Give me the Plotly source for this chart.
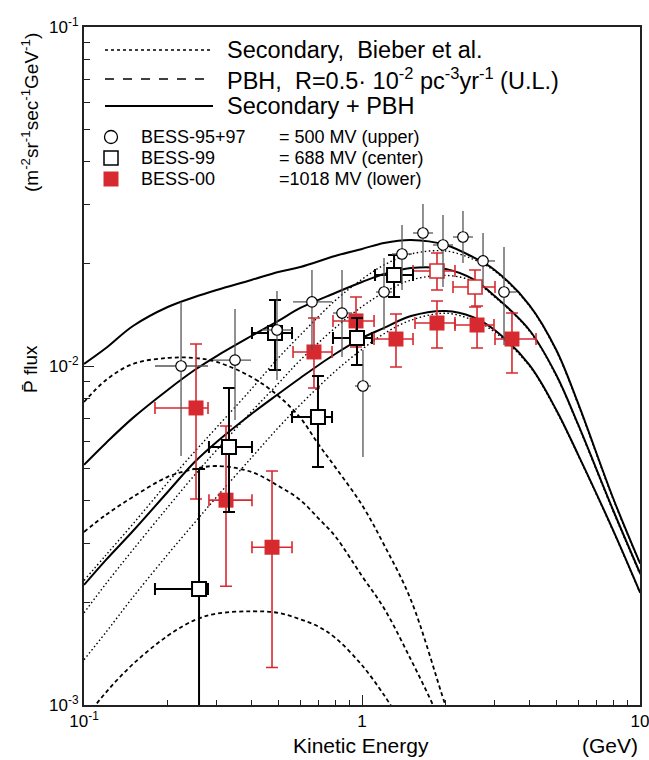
import plotly.graph_objects as go

# ---------------- curves ----------------
E_CURVE = [0.1, 0.12, 0.15, 0.2, 0.25, 0.3, 0.4, 0.5, 0.6, 0.8, 1.0, 1.2, 1.5, 2.0, 2.5, 3.0, 4.0, 5.0, 6.0, 8.0, 10.0]
SUM_500 = [0.01014, 0.01130, 0.01312, 0.01493, 0.01598, 0.01676, 0.01794, 0.01894, 0.01959, 0.02111, 0.02214,
           0.02306, 0.02353, 0.02275, 0.02097, 0.01920, 0.01513, 0.01115, 0.00773, 0.00408, 0.00262]
SUM_688 = [0.00511, 0.00593, 0.00703, 0.00850, 0.00973, 0.01070, 0.01226, 0.01358, 0.01483, 0.01642, 0.01769,
           0.01868, 0.01946, 0.01933, 0.01806, 0.01609, 0.01277, 0.00941, 0.00670, 0.00376, 0.00245]
SUM_1018 = [0.00226, 0.00268, 0.00326, 0.00425, 0.00521, 0.00597, 0.00722, 0.00827, 0.00922, 0.01085, 0.01209,
            0.01295, 0.01404, 0.01453, 0.01395, 0.01277, 0.01007, 0.00742, 0.00546, 0.00328, 0.00215]
SEC_500 = [0.00233, 0.00277, 0.00342, 0.00453, 0.00559, 0.00659, 0.00855, 0.01056, 0.01234, 0.01559, 0.01802,
           0.01986, 0.02140, 0.02184, 0.02068, 0.01906, 0.01503, 0.01107, 0.00767, 0.00405, 0.00261]
SEC_688 = [0.00187, 0.00228, 0.00287, 0.00383, 0.00477, 0.00565, 0.00733, 0.00888, 0.01041, 0.01295, 0.01497,
           0.01647, 0.01793, 0.01850, 0.01781, 0.01598, 0.01268, 0.00934, 0.00665, 0.00373, 0.00243]
SEC_1018 = [0.00136, 0.00164, 0.00208, 0.00278, 0.00345, 0.00411, 0.00536, 0.00658, 0.00769, 0.00964, 0.01120,
            0.01245, 0.01365, 0.01431, 0.01367, 0.01260, 0.01000, 0.00736, 0.00543, 0.00326, 0.00214]

E_PBH_500 = [0.1, 0.12, 0.15, 0.2, 0.25, 0.3, 0.4, 0.5, 0.6, 0.7, 0.8, 1.0, 1.2, 1.5, 2.0, 2.3]
PBH_500 = [0.00783, 0.00909, 0.01014, 0.01056, 0.01056, 0.01028, 0.00928, 0.00816, 0.00703, 0.00585, 0.00504,
           0.00389, 0.00297, 0.00204, 0.000993, 0.000717]
E_PBH_688 = [0.1, 0.12, 0.15, 0.2, 0.25, 0.3, 0.4, 0.5, 0.6, 0.7, 0.8, 1.0, 1.2, 1.5, 1.8, 2.0]
PBH_688 = [0.00324, 0.00364, 0.00411, 0.00471, 0.00497, 0.00507, 0.00487, 0.00443, 0.00402, 0.00354, 0.00315,
           0.00240, 0.00193, 0.00136, 0.00100, 0.000816]
E_PBH_1018 = [0.1, 0.12, 0.15, 0.2, 0.25, 0.3, 0.4, 0.5, 0.6, 0.7, 0.8, 1.0, 1.2, 1.3]
PBH_1018 = [0.000903, 0.00109, 0.00132, 0.00160, 0.00178, 0.00186, 0.00189, 0.00187, 0.00179, 0.00170, 0.00158,
            0.00131, 0.00107, 0.000966]

# ---------------- data points ----------------
E95 = [0.2234, 0.3493, 0.4945, 0.6607, 0.8474, 1.008, 1.200, 1.393, 1.657, 1.956, 2.308, 2.725, 3.242]
F95 = [0.0100, 0.01041, 0.01277, 0.01545, 0.01433, 0.00873, 0.01653, 0.02140, 0.02468, 0.02275, 0.02402, 0.02041, 0.01653]
F95_HI = [0.01545, 0.01473, 0.01664, 0.01920, 0.01920, 0.01115, 0.02083, 0.02605, 0.03004, 0.02788, 0.02865, 0.02468, 0.02244]
F95_LO = [0.00543, 0.00693, 0.00909, 0.01115, 0.01063, 0.00539, 0.01277, 0.01676, 0.01959, 0.01710, 0.02012, 0.01710, 0.01153]
E95_LO = [0.180, 0.2911, 0.4368, 0.5648, 0.7864, 0.9436, 1.123, 1.282, 1.526, 1.800, 2.125, 2.615, 3.136]
E95_HI = [0.2793, 0.3988, 0.5601, 0.7801, 0.9204, 1.077, 1.282, 1.513, 1.800, 2.125, 2.507, 3.009, 3.581]

E99 = [0.2593, 0.3323, 0.4865, 0.6945, 0.9594, 1.304]
F99 = [0.00220, 0.00577, 0.01251, 0.00707, 0.01210, 0.01855]
F99_HI = [0.00497, 0.00861, 0.01566, 0.00934, 0.01385, 0.02126]
F99_LO = [0.0005, 0.00371, 0.00973, 0.00504, 0.01007, 0.01598]
E99_LO = [0.180, 0.2815, 0.4020, 0.5601, 0.7864, 1.114]
E99_HI = [0.2793, 0.4020, 0.5601, 0.7801, 1.086, 1.526]

E99R = [1.861, 2.550]
F99R = [0.01907, 0.01710]
F99R_HI = [0.02154, 0.01920]
F99R_LO = [0.01676, 0.01493]
E99R_LO = [1.526, 2.125]
E99R_HI = [2.160, 3.009]

E00 = [0.2529, 0.3242, 0.4746, 0.6718, 0.9515, 1.325, 1.861, 2.593, 3.463]
F00 = [0.00752, 0.00402, 0.00292, 0.0110, 0.01358, 0.01201, 0.01339, 0.01321, 0.01201]
F00_HI = [0.01161, 0.00665, 0.00490, 0.01385, 0.01598, 0.01424, 0.01555, 0.01503, 0.01433]
F00_LO = [0.00405, 0.00224, 0.00129, 0.00861, 0.01138, 0.00993, 0.01130, 0.01130, 0.00954]
E00_LO = [0.180, 0.2815, 0.4020, 0.5648, 0.7864, 1.105, 1.551, 2.160, 3.009]
E00_HI = [0.2793, 0.4020, 0.5601, 0.7801, 1.105, 1.526, 2.160, 2.984, 4.226]

X_TICKS = [0.1, 1, 10]
X_TICKTEXT = ["10<sup>-1</sup>", "1", "10"]
Y_TICKS = [0.001, 0.01, 0.1]
Y_TICKTEXT = ["10<sup>-3</sup>", "10<sup>-2</sup>", "10<sup>-1</sup>"]

RED = "#d62a30"
FONT = "Liberation Sans, Arial, sans-serif"


def diff(a, b):
    return [x - y for x, y in zip(a, b)]


fig = go.Figure()

# curves
for ys in (SEC_500, SEC_688, SEC_1018):
    fig.add_trace(go.Scatter(x=E_CURVE, y=ys, mode="lines",
                             line=dict(color="black", width=1.4, dash="1.5px,2.5px", shape="spline", smoothing=1.0),
                             showlegend=False, hoverinfo="skip"))
for ex, ys in ((E_PBH_500, PBH_500), (E_PBH_688, PBH_688), (E_PBH_1018, PBH_1018)):
    fig.add_trace(go.Scatter(x=ex, y=ys, mode="lines",
                             line=dict(color="black", width=1.8, dash="4px,3px", shape="spline"),
                             showlegend=False, hoverinfo="skip"))
for ys in (SUM_500, SUM_688, SUM_1018):
    fig.add_trace(go.Scatter(x=E_CURVE, y=ys, mode="lines", line=dict(color="black", width=2, shape="spline"),
                             showlegend=False, hoverinfo="skip"))

# BESS-00
fig.add_trace(go.Scatter(
    x=E00, y=F00, mode="markers",
    marker=dict(symbol="square", size=15, color=RED, line=dict(width=0)),
    error_y=dict(type="data", symmetric=False, array=diff(F00_HI, F00), arrayminus=diff(F00, F00_LO),
                 color=RED, thickness=1.6, width=6),
    error_x=dict(type="data", symmetric=False, array=diff(E00_HI, E00), arrayminus=diff(E00, E00_LO),
                 color=RED, thickness=1.6, width=6),
    showlegend=False))

# BESS-99 (red bars)
fig.add_trace(go.Scatter(
    x=E99R, y=F99R, mode="markers",
    marker=dict(symbol="square", size=14, color="white", line=dict(width=1.6, color=RED)),
    error_y=dict(type="data", symmetric=False, array=diff(F99R_HI, F99R), arrayminus=diff(F99R, F99R_LO),
                 color=RED, thickness=1.6, width=6),
    error_x=dict(type="data", symmetric=False, array=diff(E99R_HI, E99R), arrayminus=diff(E99R, E99R_LO),
                 color=RED, thickness=1.6, width=6),
    showlegend=False))

# BESS-99
fig.add_trace(go.Scatter(
    x=E99, y=F99, mode="markers",
    marker=dict(symbol="square", size=14, color="white", line=dict(width=2, color="black")),
    error_y=dict(type="data", symmetric=False, array=diff(F99_HI, F99), arrayminus=diff(F99, F99_LO),
                 color="black", thickness=2, width=6),
    error_x=dict(type="data", symmetric=False, array=diff(E99_HI, E99), arrayminus=diff(E99, E99_LO),
                 color="black", thickness=2, width=6),
    showlegend=False))

# BESS-95+97
fig.add_trace(go.Scatter(
    x=E95, y=F95, mode="markers",
    marker=dict(symbol="circle", size=10.5, color="white", line=dict(width=1.2, color="black")),
    error_y=dict(type="data", symmetric=False, array=diff(F95_HI, F95), arrayminus=diff(F95, F95_LO),
                 color="#555555", thickness=1.3, width=0),
    error_x=dict(type="data", symmetric=False, array=diff(E95_HI, E95), arrayminus=diff(E95, E95_LO),
                 color="#555555", thickness=1.3, width=0),
    showlegend=False))

# ---------------- layout ----------------
L, R, T, B = 84, 9, 27, 55
PW, PH = 649 - L - R, 760 - T - B


def px(x):
    return (x - L) / PW


def py(y):
    return (760 - B - y) / PH


shapes = []
annotations = []
for yy, dash, w in ((50, "dot", 1.4), (79, "dash", 1.6), (106, "solid", 2)):
    shapes.append(dict(type="line", xref="paper", yref="paper", x0=px(105), x1=px(213), y0=py(yy), y1=py(yy),
                       line=dict(color="black", width=w, dash=dash)))
for yy, txt in ((50, "Secondary,  Bieber et al."),
                (79, "PBH,  R=0.5· 10<sup>-2</sup> pc<sup>-3</sup>yr<sup>-1</sup> (U.L.)"),
                (106, "Secondary + PBH")):
    annotations.append(dict(x=px(225), y=py(yy), xref="paper", yref="paper", text=txt, showarrow=False,
                            xanchor="left", yanchor="middle", font=dict(size=23.5, color="black", family=FONT)))

# marker legend
shapes.append(dict(type="circle", xref="paper", yref="paper", xsizemode="pixel", ysizemode="pixel",
                   xanchor=px(111), yanchor=py(137), x0=-6.5, x1=6.5, y0=-6.5, y1=6.5,
                   line=dict(color="black", width=1.3), fillcolor="white"))
shapes.append(dict(type="rect", xref="paper", yref="paper", xsizemode="pixel", ysizemode="pixel",
                   xanchor=px(111), yanchor=py(158), x0=-7, x1=7, y0=-7, y1=7,
                   line=dict(color="black", width=1.5), fillcolor="white"))
shapes.append(dict(type="rect", xref="paper", yref="paper", xsizemode="pixel", ysizemode="pixel",
                   xanchor=px(111), yanchor=py(179), x0=-7.5, x1=7.5, y0=-7.5, y1=7.5,
                   line=dict(width=0), fillcolor=RED))
for yy, a, b in ((137, "BESS-95+97", "= 500 MV (upper)"),
                 (158, "BESS-99", "= 688 MV (center)"),
                 (179, "BESS-00", "=1018 MV (lower)")):
    annotations.append(dict(x=px(139), y=py(yy), xref="paper", yref="paper", text=a, showarrow=False,
                            xanchor="left", yanchor="middle", font=dict(size=18, color="black", family=FONT)))
    annotations.append(dict(x=px(277), y=py(yy), xref="paper", yref="paper", text=b, showarrow=False,
                            xanchor="left", yanchor="middle", font=dict(size=18, color="black", family=FONT)))

# axis titles
annotations.append(dict(x=px(30), y=py(112), xref="paper", yref="paper",
                        text="(m<sup>-2</sup>sr<sup>-1</sup>sec<sup>-1</sup>GeV<sup>-1</sup>)",
                        textangle=-90, showarrow=False, xanchor="center", yanchor="middle",
                        font=dict(size=19, color="black", family=FONT)))
annotations.append(dict(x=px(30), y=py(369), xref="paper", yref="paper", text="P\u0304 flux",
                        textangle=-90, showarrow=False, xanchor="center", yanchor="middle",
                        font=dict(size=19, color="black", family=FONT)))
annotations.append(dict(x=px(361), y=py(745), xref="paper", yref="paper", text="Kinetic Energy",
                        showarrow=False, xanchor="center", yanchor="middle",
                        font=dict(size=21, color="black", family=FONT)))
annotations.append(dict(x=px(610), y=py(745), xref="paper", yref="paper", text="(GeV)",
                        showarrow=False, xanchor="center", yanchor="middle",
                        font=dict(size=21, color="black", family=FONT)))

minor_x = [0.2, 0.3, 0.4, 0.5, 0.6, 0.7, 0.8, 0.9, 2, 3, 4, 5, 6, 7, 8, 9]
minor_y = [0.002, 0.003, 0.004, 0.005, 0.006, 0.007, 0.008, 0.009, 0.02, 0.03, 0.04, 0.05, 0.06, 0.07, 0.08, 0.09]

fig.update_layout(
    width=649, height=760,
    margin=dict(l=L, r=R, t=T, b=B, autoexpand=False),
    paper_bgcolor="white", plot_bgcolor="white",
    font=dict(family=FONT, color="black"),
    showlegend=False,
    shapes=shapes, annotations=annotations,
    xaxis=dict(type="log", range=[-1, 1], showgrid=False, zeroline=False, automargin=False,
               ticklabeloverflow="allow",
               showline=True, linecolor="#222", linewidth=2, mirror=True,
               ticks="inside", ticklen=10, tickwidth=1, tickcolor="#222",
               tickvals=X_TICKS, ticktext=X_TICKTEXT, tickfont=dict(size=17),
               minor=dict(tickvals=minor_x, ticks="inside", ticklen=5, tickcolor="#222", showgrid=False)),
    yaxis=dict(type="log", range=[-3, -1], showgrid=False, zeroline=False, automargin=False,
               ticklabeloverflow="allow",
               showline=True, linecolor="#222", linewidth=2, mirror=True,
               ticks="inside", ticklen=10, tickwidth=1, tickcolor="#222",
               tickvals=Y_TICKS, ticktext=Y_TICKTEXT, tickfont=dict(size=17),
               minor=dict(tickvals=minor_y, ticks="inside", ticklen=6, tickcolor="#222", showgrid=False)),
)

fig.write_html("out.html")
